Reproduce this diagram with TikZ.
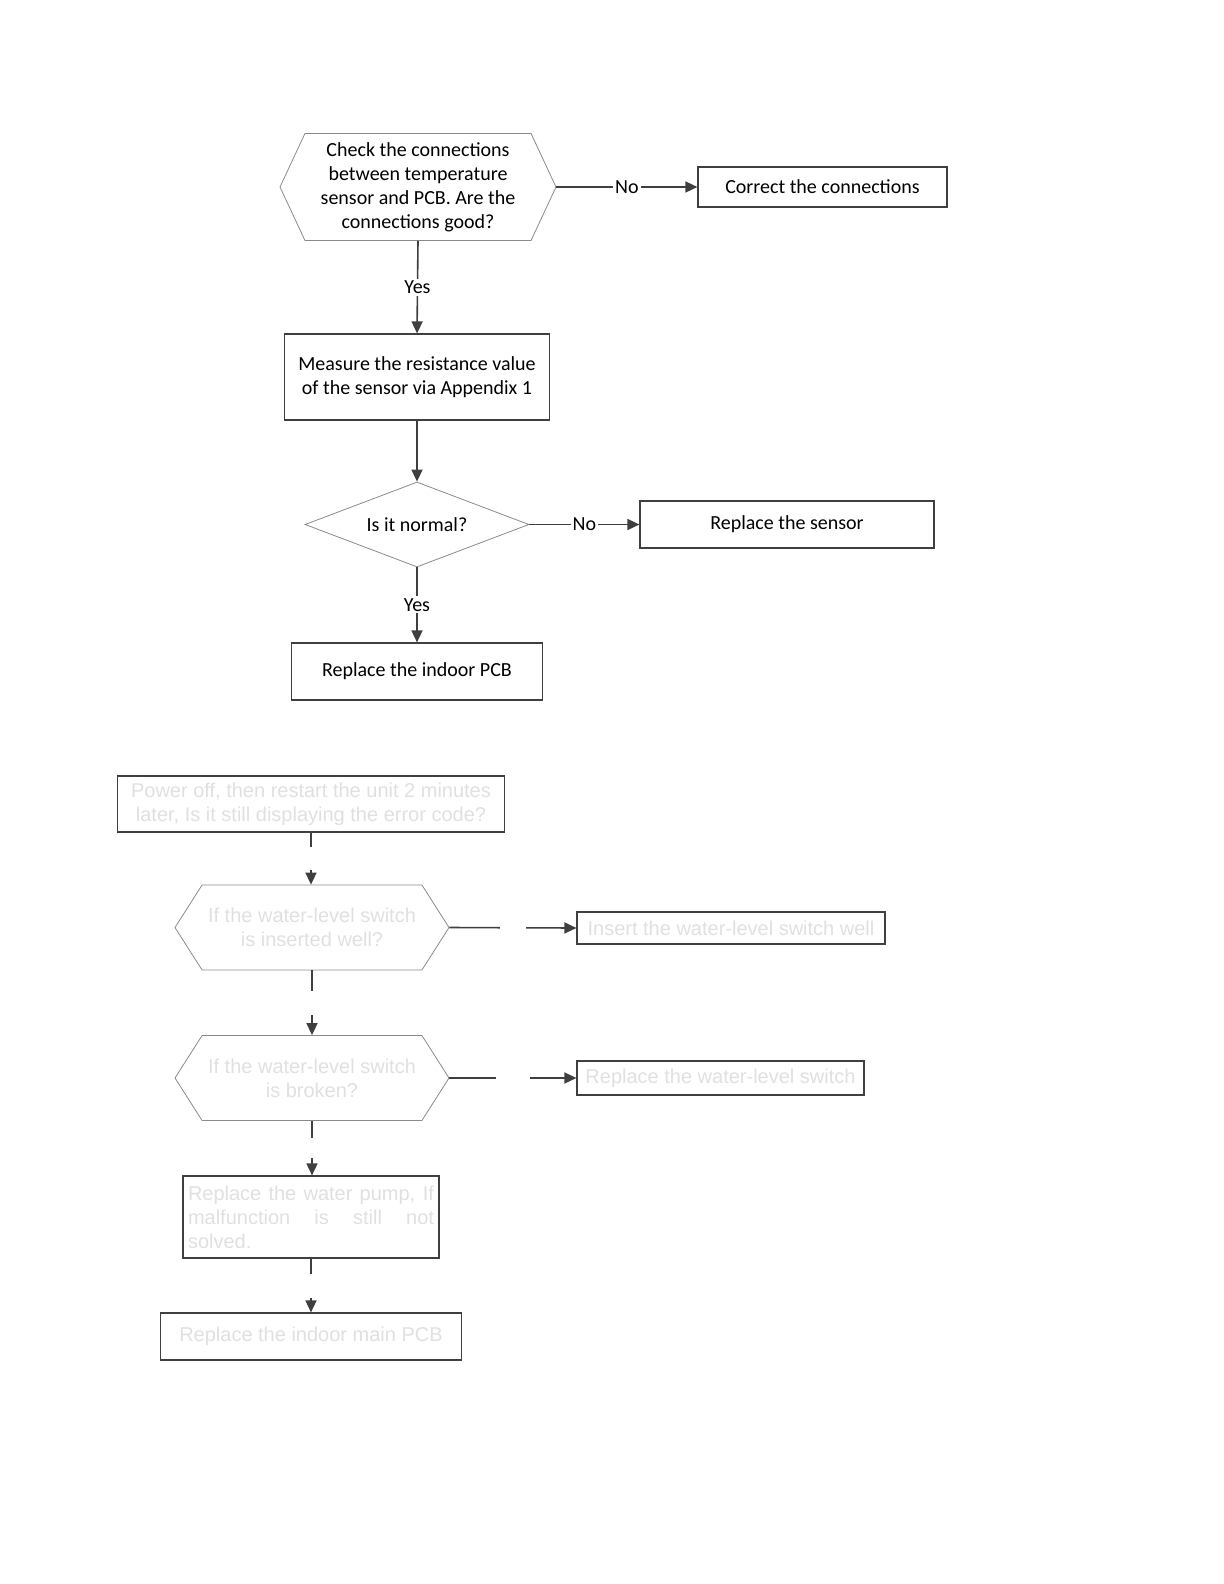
\documentclass[tikz,border=0pt]{standalone}
\usepackage{fontspec}
\setmainfont{Carlito}
\newfontfamily\ghostfont{Liberation Sans}
\usepackage{xcolor}
\usetikzlibrary{shapes,arrows.meta,positioning,calc}
\definecolor{linegrey}{HTML}{3F3F3F}
\definecolor{edgegrey}{HTML}{8A8A8A}
\definecolor{ghostgrey}{HTML}{E0E0E0}

\begin{document}
\begin{tikzpicture}[
    x=0.5pt, y=-0.5pt,
    >={Triangle[length=6pt,width=5.5pt]},
    every node/.style={font=\fontsize{10}{12}\selectfont},
    box/.style={rectangle, draw=linegrey, line width=0.6pt, align=center, inner sep=0pt},
    hexa/.style={signal, signal to=west and east, draw=edgegrey, line width=0.4pt, align=center, inner sep=0pt},
    rhomb/.style={diamond, draw=edgegrey, line width=0.4pt, inner sep=0pt},
    ghost/.style={text=ghostgrey, font=\ghostfont\fontsize{10}{12}\selectfont},
    flow/.style={->, draw=linegrey, line width=0.8pt},
    lbl/.style={fill=white, inner sep=1pt},
    gapv/.style={fill=white, inner sep=0pt, minimum width=3pt},
    gaph/.style={fill=white, inner sep=0pt, minimum height=3pt}
]
    \useasboundingbox (0,0) rectangle (1224,1584);

    % sensor check
    \node[hexa, minimum width=138pt, minimum height=53.5pt, signal pointer angle=130] (chk) at (418,187)
        {Check the connections\\between temperature\\sensor and PCB. Are the\\connections good?};
    \node[box, minimum width=124.5pt, minimum height=20pt] (fix) at (822.5,187) {Correct the connections};
    \node[box, minimum width=132.5pt, minimum height=43pt] (meas) at (417,377)
        {Measure the resistance value\\of the sensor via Appendix 1};
    \node[rhomb, minimum width=112pt, minimum height=42.5pt, aspect=2.6] (norm) at (417,524.5) {Is it normal?};
    \node[box, minimum width=147pt, minimum height=23.5pt] (sens) at (787,524.5) {Replace the sensor};
    \node[box, minimum width=125.5pt, minimum height=28.5pt] (pcb) at (417,671.5) {Replace the indoor PCB};

    \draw[flow] (chk.east) -- node[lbl] {No} (fix.west);
    \draw[flow] (chk.south) -- node[lbl] {Yes} (meas.north);
    \draw[flow] (meas.south) -- (norm.north);
    \draw[flow] (norm.east) -- node[lbl] {No} (sens.west);
    \draw[flow] (norm.south) -- node[lbl] {Yes} (pcb.north);

    % water-level switch check
    \node[box, ghost, minimum width=193.5pt, minimum height=28pt] (pwr) at (311,804)
        {Power off, then restart the unit 2 minutes\\later, Is it still displaying the error code?};
    \node[hexa, ghost, minimum width=137pt, minimum height=42.5pt, signal pointer angle=115] (swa) at (312,927.5)
        {If the water-level switch\\is inserted well?};
    \node[box, ghost, minimum width=154pt, minimum height=16pt] (ins) at (731,928) {Insert the water-level switch well};
    \node[hexa, ghost, minimum width=137pt, minimum height=42.5pt, signal pointer angle=115] (swb) at (312,1078)
        {If the water-level switch\\is broken?};
    \node[box, ghost, minimum width=143.5pt, minimum height=17pt] (rpl) at (720.5,1078) {Replace the water-level switch};
    \node[box, ghost, minimum width=128pt, minimum height=41pt, text width=123pt, align=justify] (pump) at (311,1217)
        {Replace the water pump, If\linebreak malfunction is still not\linebreak solved.};
    \node[box, ghost, minimum width=150.5pt, minimum height=23.5pt] (main) at (311,1336.5) {Replace the indoor main PCB};

    \draw[flow] (pwr.south) -- node[gapv, minimum height=11.5pt] {} (pwr.south |- swa.north);
    \draw[flow] (swa.east) -- node[gaph, minimum width=13pt] {} (ins.west);
    \draw[flow] (swa.south) -- node[gapv, minimum height=12pt] {} (swb.north);
    \draw[flow] (swb.east) -- node[gaph, minimum width=17pt] {} (rpl.west);
    \draw[flow] (swb.south) -- node[gapv, minimum height=10pt] {} (swb.south |- pump.north);
    \draw[flow] (pump.south) -- node[gapv, minimum height=12pt] {} (main.north);
\end{tikzpicture}
\end{document}
